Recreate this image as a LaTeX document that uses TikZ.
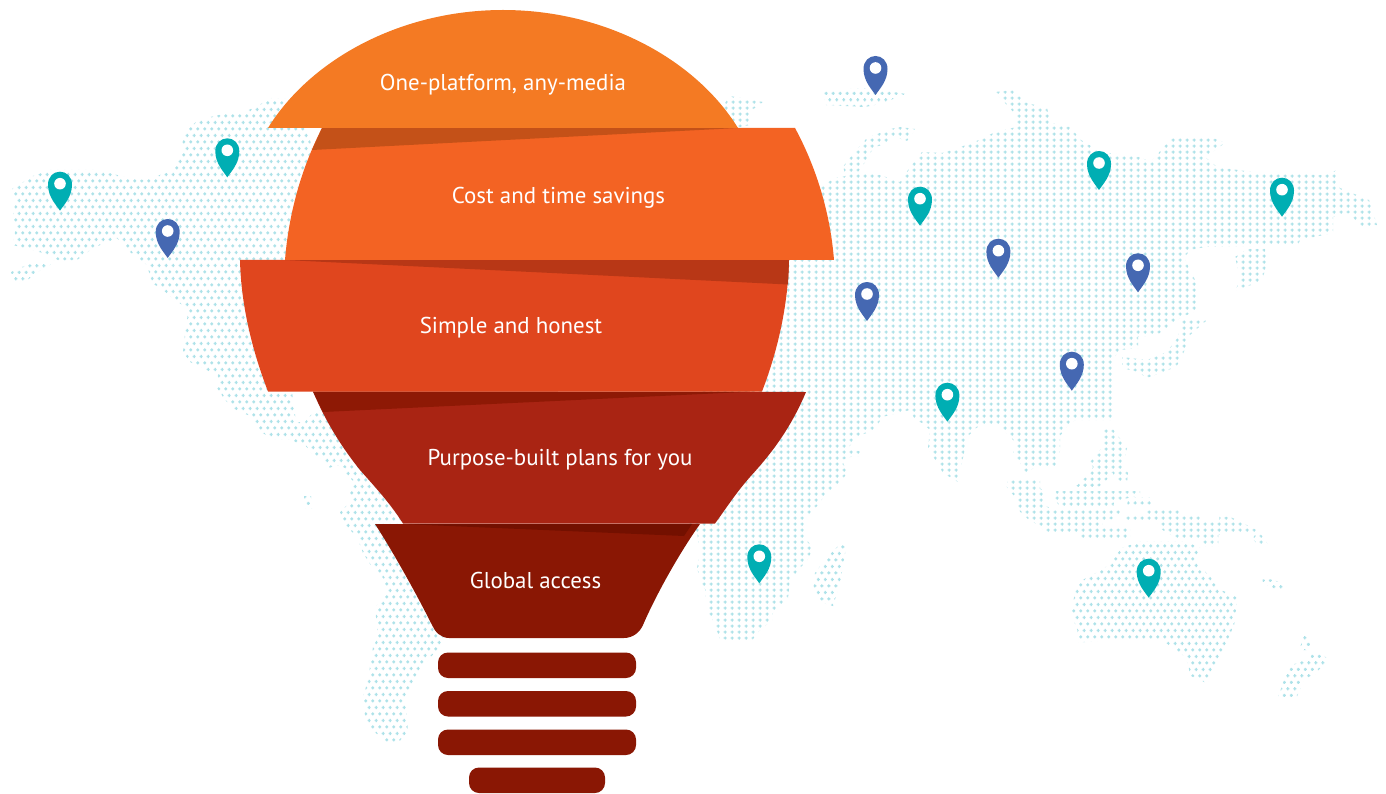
\documentclass[tikz,border=0pt]{standalone}
\usepackage{fontspec}
\setmainfont{PT Sans}
\usetikzlibrary{patterns}
\definecolor{dotblue}{HTML}{AEE2E9}
\definecolor{pinteal}{HTML}{00AEB3}
\definecolor{pinblue}{HTML}{4568B2}
\definecolor{bandA}{HTML}{F47A23}
\definecolor{bandB}{HTML}{F36323}
\definecolor{bandC}{HTML}{E0461E}
\definecolor{bandD}{HTML}{A92413}
\definecolor{bandE}{HTML}{8A1704}
\definecolor{shadeB}{HTML}{C45118}
\definecolor{shadeC}{HTML}{B83716}
\definecolor{shadeD}{HTML}{8E1905}
\definecolor{shadeE}{HTML}{731000}
\pgfdeclarepatternformonly{mapgrid}{\pgfpointorigin}{\pgfqpoint{7.17pt}{6.4pt}}{\pgfqpoint{7.17pt}{6.4pt}}{%
  \pgfpathrectangle{\pgfqpoint{1.9pt}{2.5pt}}{\pgfqpoint{3.2pt}{1.4pt}}%
  \pgfpathrectangle{\pgfqpoint{2.8pt}{1.6pt}}{\pgfqpoint{1.4pt}{3.2pt}}%
  \pgfusepath{fill}}
\pgfdeclarepatternformonly{mapstag}{\pgfpointorigin}{\pgfqpoint{7.4pt}{12.8pt}}{\pgfqpoint{7.4pt}{12.8pt}}{%
  \pgfpathrectangle{\pgfqpoint{0.3pt}{2.5pt}}{\pgfqpoint{3.2pt}{1.4pt}}%
  \pgfpathrectangle{\pgfqpoint{1.2pt}{1.6pt}}{\pgfqpoint{1.4pt}{3.2pt}}%
  \pgfpathrectangle{\pgfqpoint{4.0pt}{8.9pt}}{\pgfqpoint{3.2pt}{1.4pt}}%
  \pgfpathrectangle{\pgfqpoint{4.9pt}{8.0pt}}{\pgfqpoint{1.4pt}{3.2pt}}%
  \pgfusepath{fill}}
\tikzset{
  landgrid/.style={pattern=mapgrid,pattern color=dotblue},
  landstag/.style={pattern=mapstag,pattern color=dotblue},
  label/.style={text=white,font=\fontsize{22.9}{25}\selectfont,anchor=base,inner sep=0pt},
  bar/.style={fill=bandE,rounded corners=10pt},
  pics/mappin/.style={code={
    \fill[#1] (0,0) .. controls (-4,-6) and (-12,-14) .. (-12,-26) .. controls (-12,-34) and (-6.5,-39) .. (0,-39)
      .. controls (6.5,-39) and (12,-34) .. (12,-26) .. controls (12,-14) and (4,-6) .. (0,0) -- cycle;
    \fill[white] (0,-27) circle (5.8);
  }}
}
\begin{document}
\begin{tikzpicture}[x=1pt,y=-1pt]
\useasboundingbox (0,0) rectangle (1386,794);
\fill[white] (0,0) rectangle (1386,794);
% Americas
\fill[landstag] (12,189)--(33,176)--(50,170)--(97,170)--(125,177)--(145,180)--(172,171)--(182,150)--(183,134)--(198,120)--(227,113)--(243,113)--(257,106)--(272,98)--(300,100)--(320,180)--(320,385)--(292,392)--(296,422)--(305,422)--(315,410)--(322,410)--(420,450)--(470,600)--(447,637)--(440,647)--(428,660)--(418,672)--(405,698)--(408,731)--(398,743)--(387,742)--(372,730)--(365,717)--(363,697)--(368,680)--(373,647)--(378,637)--(375,607)--(385,597)--(385,580)--(372,567)--(363,553)--(357,537)--(343,523)--(340,512)--(352,500)--(350,493)--(355,483)--(345,473)--(345,468)--(337,465)--(329,468)--(321,458)--(313,455)--(305,445)--(297,443)--(290,439)--(275,439)--(260,432)--(253,417)--(238,411)--(231,407)--(223,397)--(217,388)--(218,375)--(210,372)--(203,368)--(190,362)--(183,352)--(185,333)--(188,313)--(183,305)--(177,302)--(163,290)--(152,283)--(147,265)--(130,252)--(117,238)--(93,248)--(77,260)--(60,261)--(43,253)--(20,247)--(13,245)--(15,232)--(13,217)--(15,203)--cycle;
\fill[landstag] (11,272)--(22,267)--(37,262)--(54,261)--(46,268)--(37,272)--(23,284)--(12,281)--cycle;
\fill[landstag] (304,496)--(311,496)--(312,508)--(305,508)--cycle;
% Small patches near the top
\fill[landgrid] (715,115)--(725,103)--(730,96)--(763,102)--(752,110)--(750,125)--(735,128)--cycle;
\fill[landstag] (822,90)--(870,88)--(906,94)--(880,104)--(865,107)--(826,105)--cycle;
% Eurasia and Africa
\fill[landgrid] (815,190)--(835,178)--(846,176)--(843,167)--(848,160)--(867,138)--(890,129)--(900,127)--(915,129)--(907,141)--(892,136)--(887,143)--(873,148)--(868,158)--(858,172)--(880,175)--(900,182)--(908,170)--(917,158)--(922,152)--(942,153)--(958,148)--(979,140)--(993,133)--(1016,127)--(1016,115)--(995,92)--(1012,90)--(1027,103)--(1047,108)--(1051,123)--(1070,127)--(1081,140)--(1101,152)--(1139,157)--(1151,162)--(1167,143)--(1170,138)--(1211,137)--(1225,143)--(1205,157)--(1217,167)--(1252,172)--(1325,175)--(1337,170)--(1340,188)--(1369,200)--(1377,225)--(1360,227)--(1350,213)--(1333,217)--(1333,233)--(1300,240)--(1298,245)--(1205,247)--(1190,250)--(1184,258)--(1190,270)--(1199,288)--(1198,310)--(1180,318)--(1157,335)--(1138,337)--(1138,348)--(1120,350)--(1112,360)--(1112,420)--(1075,420)--(1068,425)--(1060,436)--(1060,450)--(1057,467)--(1035,467)--(1025,474)--(1020,462)--(1013,455)--(1015,442)--(1003,429)--(997,424)--(982,424)--(975,429)--(968,436)--(962,462)--(958,482)--(943,473)--(928,448)--(930,430)--(922,423)--(915,420)--(910,410)--(882,417)--(875,430)--(858,436)--(848,448)--(862,452)--(862,456)--(853,456)--(842,460)--(847,473)--(840,483)--(825,495)--(818,505)--(805,518)--(805,537)--(813,549)--(807,560)--(790,580)--(788,598)--(773,612)--(772,620)--(758,632)--(751,642)--(720,639)--(712,618)--(707,611)--(705,589)--(701,582)--(697,568)--(700,553)--(697,532)--(690,525)--(680,480)--(720,300)--(800,195)--cycle;
% Madagascar
\fill[landstag] (841,543)--(846,548)--(840,583)--(833,606)--(823,603)--(813,592)--(815,573)--(827,557)--cycle;
% Kamchatka-like patch and Japan arc
\fill[landgrid] (1248,249)--(1265,249)--(1267,263)--(1263,277)--(1257,283)--(1236,290)--(1240,277)--(1235,257)--cycle;
\fill[landgrid] (1207,320)--(1190,335)--(1182,357)--(1176,367)--(1147,378)--(1138,372)--(1122,368)--(1122,357)--(1147,360)--(1167,352)--(1178,337)--(1182,320)--cycle;
% South-east Asia
\fill[landgrid] (1103,428)--(1112,428)--(1127,448)--(1123,467)--(1128,473)--(1127,482)--(1118,482)--(1112,472)--(1105,482)--(1097,488)--(1075,488)--(1082,480)--(1090,474)--(1093,467)--(1090,462)--(1102,448)--cycle;
\begin{scope}[shift={(980,420)},scale=1/3]
\fill[landgrid] (85,175)--(180,175)--(180,205)--(195,215)--(195,258)--(225,268)--(420,268)--(420,280)--(395,298)--(365,300)--(368,318)--(450,325)--(450,355)--(300,355)--(298,338)--(195,335)--(180,318)--(145,298)--(125,280)--(105,258)--(115,240)--(95,220)--(80,200)--cycle;
\fill[landgrid] (228,213)--(480,213)--(480,225)--(402,245)--(400,262)--(242,262)--(225,240)--cycle;
\fill[landgrid] (280,195)--(352,195)--(352,205)--(280,205)--cycle;
\fill[landgrid] (445,232)--(518,232)--(515,262)--(440,262)--cycle;
\fill[landgrid] (500,270)--(600,270)--(600,285)--(665,285)--(665,300)--(718,300)--(718,290)--(750,290)--(790,310)--(830,330)--(848,350)--(865,375)--(835,378)--(818,355)--(830,338)--(775,335)--(715,345)--(715,378)--(675,378)--(665,358)--(620,358)--(595,355)--(555,335)--(535,320)--(533,300)--(430,300)--(432,288)--(500,285)--cycle;
% Australia, small islands, New Zealand
\fill[landstag] (480,364)--(618,364)--(660,384)--(648,425)--(682,462)--(728,512)--(772,532)--(763,612)--(742,662)--(725,698)--(698,748)--(682,790)--(632,768)--(618,712)--(548,662)--(410,658)--(296,668)--(292,630)--(272,578)--(292,488)--(355,455)--(385,436)--(425,384)--cycle;
\fill[landstag] (848,478)--(878,478)--(918,498)--(915,507)--(885,507)--(848,488)--cycle;
\fill[landstag] (972,644)--(995,664)--(990,690)--(958,690)--cycle;
\fill[landstag] (998,698)--(1025,698)--(1044,720)--(1005,762)--(972,778)--(950,832)--(895,830)--(915,770)--(935,735)--(988,716)--cycle;
\end{scope}
% Pins
\pic at (60,210.7) {mappin=pinteal};
\pic at (227.3,177.3) {mappin=pinteal};
\pic at (167.7,258) {mappin=pinblue};
\pic at (875.5,95) {mappin=pinblue};
\pic at (920,225.7) {mappin=pinteal};
\pic at (1099,190) {mappin=pinteal};
\pic at (1282,216.7) {mappin=pinteal};
\pic at (998.4,277.7) {mappin=pinblue};
\pic at (1138,292.3) {mappin=pinblue};
\pic at (867,321) {mappin=pinblue};
\pic at (1071.8,390.7) {mappin=pinblue};
\pic at (947.4,421.7) {mappin=pinteal};
\pic at (759.3,583.3) {mappin=pinteal};
\pic at (1148.7,597.7) {mappin=pinteal};
% Bulb bands
\fill[bandE] (375,524) .. controls (395,555) and (418,597) .. (432,625) .. controls (435,632) and (441,638) .. (449,638) -- (624,638) .. controls (633,638) and (640,632) .. (643,625) .. controls (655,597) and (678,555) .. (700,524) -- cycle;
\fill[shadeE] (403,524) -- (692,524) -- (684,536) -- cycle;
\fill[bandD] (806,392) .. controls (790,430) and (770,455) .. (750,477) .. controls (735,494) and (725,510) .. (715,523.5) -- (403,523.5) .. controls (390,503) and (375,487) .. (360,470) .. controls (340,445) and (325,420) .. (313,391.5) -- cycle;
\fill[shadeD] (313,391.5) -- (755,391.5) -- (323,412) -- cycle;
\fill[bandC] (240,260) -- (789,260) .. controls (788,305) and (778,350) .. (762,391.5) -- (268,391.5) .. controls (252,350) and (241,305) .. (240,260) -- cycle;
\fill[shadeC] (285,260) -- (789,260) -- (788,284.5) -- cycle;
\fill[bandB] (322,128) -- (795,128) .. controls (815,165) and (830,210) .. (834,260) -- (285,260) .. controls (289,210) and (303,165) .. (322,128) -- cycle;
\fill[shadeB] (322,128) -- (738,128) -- (312,150) -- cycle;
\fill[bandA] (268,128) .. controls (310,60) and (400,10) .. (503,10) .. controls (606,10) and (696,60) .. (738,128) -- cycle;
% Base bars
\fill[bar] (438,652.5) rectangle (636,678);
\fill[bar] (438,691) rectangle (636,716.5);
\fill[bar] (438,729.5) rectangle (636,755);
\fill[bar] (469,767.5) rectangle (605,793);
% Labels
\node[label] (tA) at (503,91) {One-platform, any-media};
\node[label] (tB) at (558.5,204) {Cost and time savings};
\node[label] (tC) at (511,333) {Simple and honest};
\node[label] (tD) at (560,465) {Purpose-built plans for you};
\node[label] (tE) at (535.5,588) {Global access};
\end{tikzpicture}
\end{document}
